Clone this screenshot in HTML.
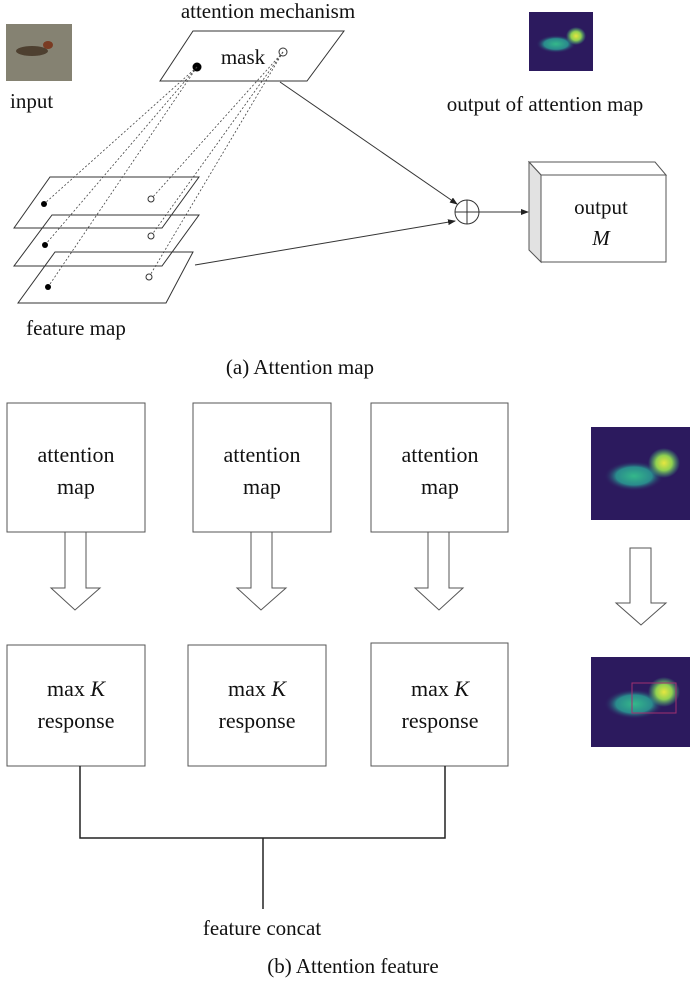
<!DOCTYPE html>
<html><head><meta charset="utf-8"><style>
html,body{margin:0;padding:0;background:#fff}
svg{display:block}
text{font-family:"Liberation Serif",serif;fill:#111}
</style></head><body>
<svg width="700" height="981" viewBox="0 0 700 981" xmlns="http://www.w3.org/2000/svg">
<defs>
<marker id="ar" markerWidth="8" markerHeight="6" refX="7" refY="3" orient="auto" markerUnits="userSpaceOnUse"><path d="M0,0 L8,3 L0,6 z" fill="#222"/></marker>
<radialGradient id="hm" cx="0.5" cy="0.5" r="0.5">
<stop offset="0" stop-color="#34b88a"/><stop offset="0.6" stop-color="#2a8a8c"/><stop offset="1" stop-color="#2c1a5e" stop-opacity="0"/></radialGradient>
<radialGradient id="hy" cx="0.5" cy="0.5" r="0.5">
<stop offset="0" stop-color="#e6e640"/><stop offset="0.5" stop-color="#90d050"/><stop offset="1" stop-color="#40c080" stop-opacity="0"/></radialGradient>
</defs>
<!-- input image -->
<rect x="6" y="24" width="66" height="57" fill="#858272"/>
<ellipse cx="32" cy="51" rx="16" ry="5" fill="#4e4030"/>
<ellipse cx="48" cy="45" rx="5" ry="4" fill="#7a3b22"/>
<text x="10" y="108" font-size="21">input</text>
<text x="268" y="18" font-size="21" text-anchor="middle">attention mechanism</text>
<!-- mask -->
<polygon points="193,31 344,31 307,81 160,81" fill="#fff" stroke="#333" stroke-width="1"/>
<text x="243" y="64" font-size="21" text-anchor="middle">mask</text>
<circle cx="197" cy="67" r="4.5" fill="#000"/>
<circle cx="283" cy="52" r="4" fill="#fff" stroke="#333"/>
<g stroke="#444" stroke-width="0.8" stroke-dasharray="2,2" fill="none">
<line x1="197" y1="67" x2="44" y2="204"/>
<line x1="197" y1="67" x2="45" y2="245"/>
<line x1="197" y1="67" x2="48" y2="287"/>
<line x1="283" y1="52" x2="151" y2="199"/>
<line x1="283" y1="52" x2="151" y2="236"/>
<line x1="283" y1="52" x2="149" y2="277"/>
</g>
<g stroke="#333" stroke-width="1" fill="none">
<polygon points="50,177 199,177 162,228 14,228"/>
<polygon points="52,215 199,215 162,266 14,266"/>
<polygon points="55,252 193,252 166,303 18,303"/>
</g>
<circle cx="44" cy="204" r="3" fill="#000"/>
<circle cx="45" cy="245" r="3" fill="#000"/>
<circle cx="48" cy="287" r="3" fill="#000"/>
<circle cx="151" cy="199" r="3" fill="#fff" stroke="#333"/>
<circle cx="151" cy="236" r="3" fill="#fff" stroke="#333"/>
<circle cx="149" cy="277" r="3" fill="#fff" stroke="#333"/>
<text x="76" y="335" font-size="21" text-anchor="middle">feature map</text>
<line x1="280" y1="82" x2="457" y2="204" stroke="#333" marker-end="url(#ar)"/>
<line x1="195" y1="265" x2="455" y2="221" stroke="#333" marker-end="url(#ar)"/>
<circle cx="467" cy="212" r="12" fill="#fff" stroke="#333"/>
<line x1="455" y1="212" x2="479" y2="212" stroke="#333"/>
<line x1="467" y1="200" x2="467" y2="224" stroke="#333"/>
<line x1="479" y1="212" x2="528" y2="212" stroke="#333" marker-end="url(#ar)"/>
<polygon points="529,162 655,162 666,175 541,175" fill="#fff" stroke="#555"/>
<polygon points="529,162 541,175 541,262 529,250" fill="#e2e2e2" stroke="#555"/>
<rect x="541" y="175" width="125" height="87" fill="#fff" stroke="#555"/>
<text x="601" y="214" font-size="21" text-anchor="middle">output</text>
<text x="601" y="245" font-size="21" font-style="italic" text-anchor="middle">M</text>
<!-- heatmap small -->
<rect x="529" y="12" width="64" height="59" fill="#2c1a5e"/>
<ellipse cx="556" cy="44" rx="20" ry="9" fill="url(#hm)"/>
<ellipse cx="576" cy="36" rx="10" ry="9" fill="url(#hy)"/>
<text x="545" y="111" font-size="21" text-anchor="middle">output of attention map</text>
<text x="300" y="374" font-size="21" text-anchor="middle">(a) Attention map</text>
<g stroke="#555" stroke-width="1" fill="#fff">
<rect x="7" y="403" width="138" height="129"/>
<rect x="193" y="403" width="138" height="129"/>
<rect x="371" y="403" width="137" height="129"/>
<rect x="7" y="645" width="138" height="121"/>
<rect x="188" y="645" width="138" height="121"/>
<rect x="371" y="643" width="137" height="123"/>
<polygon points="65,532 86,532 86,588 100,588 75,610 51,588 65,588"/>
<polygon points="251,532 272,532 272,588 286,588 261,610 237,588 251,588"/>
<polygon points="428,532 449,532 449,588 463,588 439,610 415,588 428,588"/>
<polygon points="630,548 651,548 651,603 666,603 641,625 616,603 630,603"/>
</g>
<g font-size="22" text-anchor="middle">
<text x="76" y="462">attention</text><text x="76" y="494">map</text>
<text x="262" y="462">attention</text><text x="262" y="494">map</text>
<text x="440" y="462">attention</text><text x="440" y="494">map</text>
<text x="76" y="696">max <tspan font-style="italic">K</tspan></text><text x="76" y="728">response</text>
<text x="257" y="696">max <tspan font-style="italic">K</tspan></text><text x="257" y="728">response</text>
<text x="440" y="696">max <tspan font-style="italic">K</tspan></text><text x="440" y="728">response</text>
</g>
<rect x="591" y="427" width="99" height="93" fill="#2c1a5e"/>
<ellipse cx="634" cy="476" rx="30" ry="15" fill="url(#hm)"/>
<ellipse cx="664" cy="463" rx="16" ry="15" fill="url(#hy)"/>
<rect x="591" y="657" width="99" height="90" fill="#2c1a5e"/>
<ellipse cx="634" cy="704" rx="30" ry="15" fill="url(#hm)"/>
<ellipse cx="664" cy="692" rx="16" ry="15" fill="url(#hy)"/>
<rect x="632" y="683" width="44" height="30" fill="none" stroke="#a03070" stroke-width="1"/>
<g stroke="#222" stroke-width="1.5" fill="none">
<polyline points="80,766 80,838 445,838 445,766"/>
<line x1="263" y1="838" x2="263" y2="909"/>
</g>
<text x="262" y="935" font-size="21" text-anchor="middle">feature concat</text>
<text x="353" y="973" font-size="21" text-anchor="middle">(b) Attention feature</text>
</svg>
</body></html>
